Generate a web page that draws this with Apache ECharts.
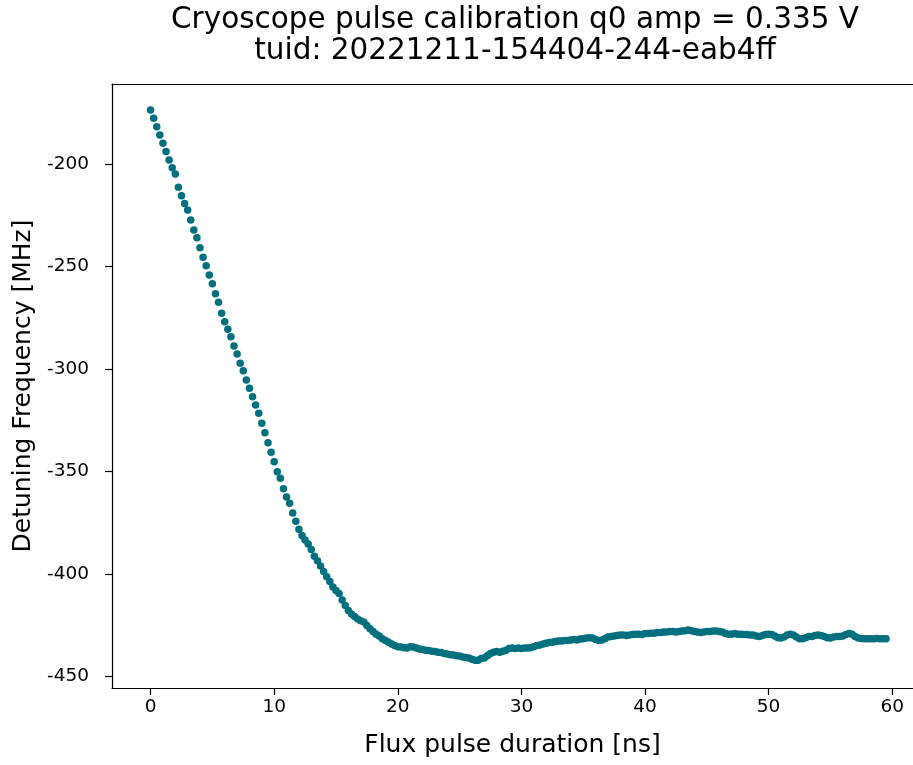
<!DOCTYPE html>
<html>
<head>
<meta charset="utf-8">
<script src="https://cdn.jsdelivr.net/npm/echarts@6/dist/echarts.min.js"></script>
<style>
html,body{margin:0;padding:0;background:#fff;}
#chart{width:913px;height:765px;}
</style>
</head>
<body>
<div id="chart"></div>
<script>
const titleLines = ['Cryoscope pulse calibration q0 amp = 0.335 V', 'tuid: 20221211-154404-244-eab4ff'];
const xAxisName = 'Flux pulse duration [ns]';
const yAxisName = 'Detuning Frequency [MHz]';
const xTicks = [0, 10, 20, 30, 40, 50, 60];
const yTicks = [-450, -400, -350, -300, -250, -200];

const durations = [
0,0.25,0.5,0.75,1,1.25,1.5,1.75,2,2.25,2.5,2.75,3,3.25,3.5,3.75,4,4.25,4.5,4.75,
5,5.25,5.5,5.75,6,6.25,6.5,6.75,7,7.25,7.5,7.75,8,8.25,8.5,8.75,9,9.25,9.5,9.75,
10,10.25,10.5,10.75,11,11.25,11.5,11.75,12,12.25,12.5,12.75,13,13.25,13.5,13.75,14,14.25,14.5,14.75,
15,15.25,15.5,15.75,16,16.25,16.5,16.75,17,17.25,17.5,17.75,18,18.25,18.5,18.75,19,19.25,19.5,19.75,
20,20.25,20.5,20.75,21,21.25,21.5,21.75,22,22.25,22.5,22.75,23,23.25,23.5,23.75,24,24.25,24.5,24.75,
25,25.25,25.5,25.75,26,26.25,26.5,26.75,27,27.25,27.5,27.75,28,28.25,28.5,28.75,29,29.25,29.5,29.75,
30,30.25,30.5,30.75,31,31.25,31.5,31.75,32,32.25,32.5,32.75,33,33.25,33.5,33.75,34,34.25,34.5,34.75,
35,35.25,35.5,35.75,36,36.25,36.5,36.75,37,37.25,37.5,37.75,38,38.25,38.5,38.75,39,39.25,39.5,39.75,
40,40.25,40.5,40.75,41,41.25,41.5,41.75,42,42.25,42.5,42.75,43,43.25,43.5,43.75,44,44.25,44.5,44.75,
45,45.25,45.5,45.75,46,46.25,46.5,46.75,47,47.25,47.5,47.75,48,48.25,48.5,48.75,49,49.25,49.5,49.75,
50,50.25,50.5,50.75,51,51.25,51.5,51.75,52,52.25,52.5,52.75,53,53.25,53.5,53.75,54,54.25,54.5,54.75,
55,55.25,55.5,55.75,56,56.25,56.5,56.75,57,57.25,57.5,57.75,58,58.25,58.5,58.75,59,59.25,59.5
];

const detuning = [
-173.5,-177.5,-181.6,-185.7,-189.7,-193.8,-197.9,-201.7,-204.7,-211.2,
-215.3,-219.1,-222.3,-227.2,-232.1,-235.9,-240.7,-245.4,-249.5,-254.1,
-258.3,-263.2,-267.4,-272.8,-276.9,-280.6,-284.2,-288.8,-292.7,-297.2,
-300.8,-305.4,-309.4,-313.5,-317.6,-321.6,-326.5,-331.1,-336.0,-340.7,
-345.3,-350.2,-353.4,-358.5,-362.5,-365.5,-370.3,-374.3,-378.2,-381.3,
-383.5,-385.5,-388.2,-391.4,-393.6,-396.2,-398.9,-401.4,-403.8,-406.5,
-408.2,-409.7,-412.8,-415.5,-418.0,-419.7,-420.9,-422.1,-422.9,-423.6,
-425.3,-426.8,-428.2,-429.5,-430.4,-431.7,-432.6,-433.4,-434.3,-435.1,
-435.6,-435.8,-436.1,-436.3,-435.6,-435.8,-436.3,-436.8,-437.0,-437.3,
-437.5,-437.8,-438.0,-438.3,-438.5,-439.0,-439.2,-439.5,-439.7,-440.0,
-440.2,-440.7,-440.9,-441.2,-441.7,-442.2,-442.2,-441.4,-441.2,-440.0,
-439.0,-438.3,-438.0,-438.3,-437.8,-437.3,-436.5,-436.3,-436.5,-436.3,
-436.5,-436.3,-436.3,-436.1,-435.6,-435.1,-434.8,-434.3,-433.9,-433.6,
-433.4,-433.1,-432.9,-432.9,-432.6,-432.6,-432.4,-432.1,-432.4,-431.9,
-431.7,-431.4,-431.2,-431.4,-432.1,-432.6,-432.4,-431.7,-430.9,-430.7,
-430.4,-430.2,-429.9,-429.9,-430.2,-429.9,-429.7,-429.5,-429.5,-429.7,
-429.2,-429.2,-429.0,-429.0,-428.7,-428.7,-428.5,-428.5,-428.2,-428.2,
-428.5,-428.2,-428.0,-427.8,-427.5,-427.8,-428.2,-428.5,-428.7,-428.5,
-428.2,-428.2,-428.0,-428.0,-428.2,-428.5,-429.2,-429.5,-429.5,-429.2,
-429.5,-429.5,-429.7,-429.7,-429.9,-429.9,-430.4,-430.7,-430.2,-429.7,
-429.5,-429.7,-430.4,-431.2,-431.4,-430.9,-429.9,-429.5,-429.9,-430.9,
-431.7,-431.7,-431.2,-430.7,-430.7,-430.2,-429.9,-430.2,-430.7,-431.2,
-431.4,-430.9,-430.7,-430.7,-430.4,-429.7,-429.2,-429.5,-430.7,-431.4,
-431.6,-431.7,-431.7,-431.8,-431.7,-431.6,-431.7,-431.8,-431.7
];

const points = durations.map((t, i) => [t, detuning[i]]);
const FONT = 'DejaVu Sans';
const chart = echarts.init(document.getElementById('chart'), null, {renderer: 'canvas'});
chart.setOption({
  animation: false,
  backgroundColor: '#ffffff',
  title: {
    text: titleLines.join('\n'),
    left: 510,
    top: 0,
    textAlign: 'center',
    textStyle: {fontFamily: FONT, fontSize: 29.5, fontWeight: 'normal', color: '#000', lineHeight: 31}
  },
  grid: {left: 112, top: 84, bottom: 77, right: 0, containLabel: false},
  xAxis: [{
    type: 'value', min: -3.12, max: 61.68, position: 'bottom',
    name: xAxisName, nameLocation: 'middle', nameGap: 45,
    nameTextStyle: {fontFamily: FONT, fontSize: 25, color: '#000'},
    axisLine: {show: true, onZero: false, lineStyle: {color: '#000', width: 1.2}},
    axisTick: {show: true, length: 7, lineStyle: {color: '#000', width: 1.2}, customValues: xTicks},
    axisLabel: {fontFamily: FONT, fontSize: 18.5, color: '#000', margin: 10, customValues: xTicks},
    splitLine: {show: false}
  }, {
    type: 'value', min: -3.12, max: 61.68, position: 'top',
    axisLine: {show: true, onZero: false, lineStyle: {color: '#000', width: 1.2}},
    axisTick: {show: false}, axisLabel: {show: false}, splitLine: {show: false}
  }],
  yAxis: [{
    type: 'value', min: -455.8, max: -160.77, position: 'left',
    name: yAxisName, nameLocation: 'middle', nameGap: 76, nameRotate: 90,
    nameTextStyle: {fontFamily: FONT, fontSize: 25, color: '#000'},
    axisLine: {show: true, onZero: false, lineStyle: {color: '#000', width: 1.2}},
    axisTick: {show: true, length: 7, lineStyle: {color: '#000', width: 1.2}, customValues: yTicks},
    axisLabel: {fontFamily: FONT, fontSize: 18.5, color: '#000', margin: 23, customValues: yTicks},
    splitLine: {show: false}
  }],
  series: [{
    type: 'scatter',
    data: points,
    symbol: 'circle',
    symbolSize: 7.5,
    itemStyle: {color: '#006f7e', opacity: 1},
    silent: true
  }]
});
</script>
</body>
</html>
